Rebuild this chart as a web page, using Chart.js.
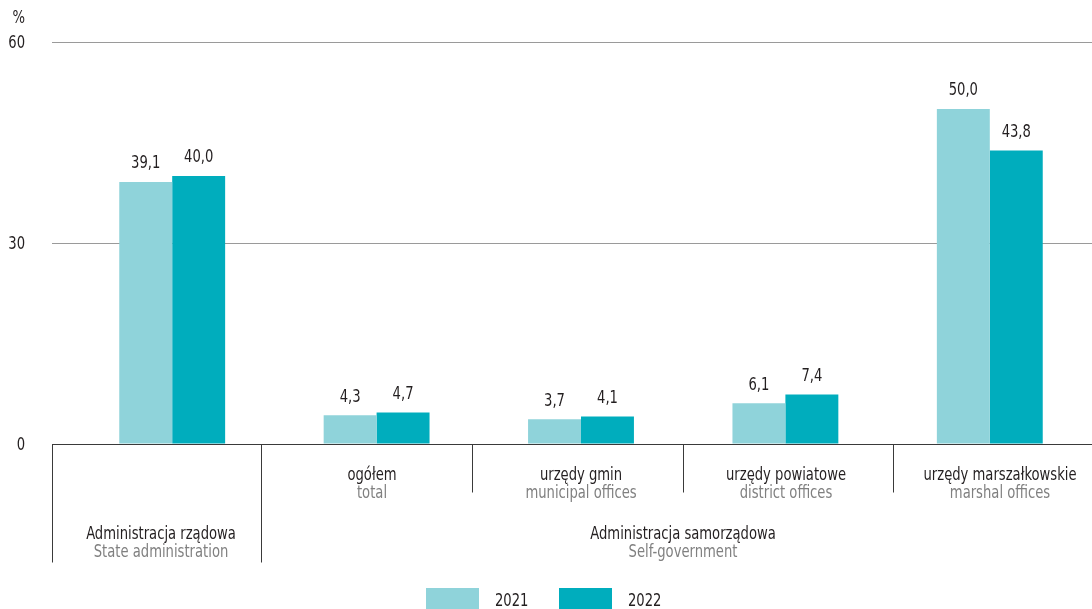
<!DOCTYPE html>
<html>
<head>
<meta charset="utf-8">
<script src="https://cdn.jsdelivr.net/npm/chart.js@4"></script>
<style>
html,body{margin:0;padding:0;background:#fff;}
#wrap{width:1092px;height:609px;position:relative;}
</style>
</head>
<body>
<div id="wrap"><canvas id="c" width="1092" height="609"></canvas></div>
<script>
const categories = ['Administracja rządowa', 'ogółem', 'urzędy gmin', 'urzędy powiatowe', 'urzędy marszałkowskie'];
const categoriesEn = ['State administration', 'total', 'municipal offices', 'district offices', 'marshal offices'];
const groupLabel = 'Administracja samorządowa';
const groupLabelEn = 'Self-government';
const seriesNames = ['2021', '2022'];
const values2021 = [39.1, 4.3, 3.7, 6.1, 50.0];
const values2022 = [40.0, 4.7, 4.1, 7.4, 43.8];
const yTicks = [0, 30, 60];
const unitLabel = '%';

const FONT = "'Liberation Sans Narrow', 'DejaVu Sans Condensed', 'Arial Narrow', sans-serif";
const FSIZE = 17;
const SX = 0.86;
const DARK = '#231f20';
const GREY = '#808080';
const COLORS = ['#8fd3da', '#00adbd'];

const fmt = v => v.toFixed(1).replace('.', ',');

function txt(ctx, s, x, y, align, color) {
  ctx.save();
  ctx.font = FSIZE + 'px ' + FONT;
  ctx.fillStyle = color;
  ctx.textAlign = align;
  ctx.textBaseline = 'middle';
  ctx.translate(x, y + 2);
  ctx.scale(SX, 1);
  ctx.fillText(s, 0, 0);
  ctx.restore();
}

const annotate = {
  id: 'annotate',
  afterDatasetsDraw(chart) {
    const ctx = chart.ctx;
    const ca = chart.chartArea;
    const ys = chart.scales.y;
    ctx.save();
    // value labels
    chart.data.datasets.forEach((ds, di) => {
      chart.getDatasetMeta(di).data.forEach((bar, i) => {
        txt(ctx, fmt(ds.data[i]), bar.x, bar.y - 20, 'center', DARK);
      });
    });
    // y tick labels
    yTicks.forEach(v => txt(ctx, String(v), 25, ys.getPixelForValue(v), 'right', DARK));
    txt(ctx, unitLabel, 25, 17, 'right', DARK);
    // zero line
    const y0 = Math.round(ys.getPixelForValue(0)) + 0.5;
    ctx.strokeStyle = '#3a3a3a';
    ctx.lineWidth = 1;
    ctx.beginPath();
    ctx.moveTo(52, y0); ctx.lineTo(ca.right, y0);
    ctx.stroke();
    // separators
    const seps = [[52, 118], [261, 118], [472, 48], [683, 48], [893, 48]];
    seps.forEach(([x, len]) => {
      ctx.beginPath();
      ctx.moveTo(x + 0.5, y0); ctx.lineTo(x + 0.5, y0 + len);
      ctx.stroke();
    });
    // category labels
    const centers = [161, 372, 581, 786, 1000];
    categories.forEach((c, i) => {
      const yTop = i === 0 ? 533 : 474;
      txt(ctx, c, centers[i], yTop, 'center', DARK);
      txt(ctx, categoriesEn[i], centers[i], yTop + 18, 'center', GREY);
    });
    txt(ctx, groupLabel, 683, 533, 'center', DARK);
    txt(ctx, groupLabelEn, 683, 551, 'center', GREY);
    // legend
    const legX = [426, 559];
    chart.data.datasets.forEach((ds, di) => {
      ctx.fillStyle = ds.backgroundColor;
      ctx.fillRect(legX[di], 588, 53, 22);
      txt(ctx, ds.label, legX[di] + 69, 600, 'left', DARK);
    });
    ctx.restore();
  }
};

new Chart(document.getElementById('c'), {
  type: 'bar',
  data: {
    labels: categories,
    datasets: [
      { label: seriesNames[0], data: values2021, backgroundColor: COLORS[0] },
      { label: seriesNames[1], data: values2022, backgroundColor: COLORS[1] }
    ]
  },
  options: {
    responsive: false,
    animation: false,
    events: [],
    layout: { padding: { top: 42, bottom: 165, left: 0, right: 0 } },
    datasets: { bar: { categoryPercentage: 0.518, barPercentage: 1.0 } },
    plugins: { legend: { display: false }, tooltip: { enabled: false } },
    scales: {
      x: { display: false, offset: true, grid: { display: false } },
      y: {
        min: 0, max: 60,
        afterFit(s) { s.width = 70; },
        afterBuildTicks(s) { s.ticks = yTicks.map(v => ({ value: v })); },
        border: { display: false },
        grid: { color: '#9a9a9a', lineWidth: 1, tickLength: 18, drawTicks: true },
        ticks: { display: false }
      }
    }
  },
  plugins: [annotate]
});
</script>
</body>
</html>
